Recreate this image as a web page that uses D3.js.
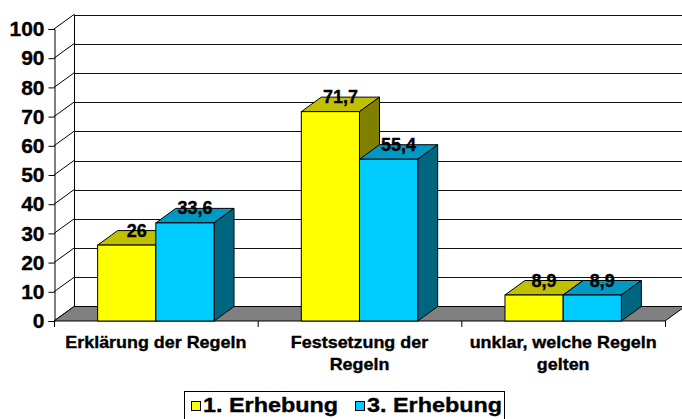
<!DOCTYPE html>
<html>
<head>
<meta charset="utf-8">
<script src="https://cdn.jsdelivr.net/npm/d3@7"></script>
<style>
  body { margin: 0; background: #fff; }
  text { font-family: Arial, 'Liberation Sans', sans-serif; font-weight: bold; fill: #000; stroke: #000; stroke-width: 0.35px; }
</style>
</head>
<body>
<div id="chart"></div>
<script>
// data
const categories = [['Erklärung der Regeln'], ['Festsetzung der', 'Regeln'], ['unklar, welche Regeln', 'gelten']]
const seriesNames = ['1. Erhebung', '3. Erhebung']
const erhebung1 = [26, 71.7, 8.9]
const erhebung3 = [33.6, 55.4, 8.9]
const yTicks = [0, 10, 20, 30, 40, 50, 60, 70, 80, 90, 100]

const width = 682
const height = 419

// 3d depth offset of the plot
const dx = 20
const dy = -14.5

// front, top and side colours for each series
const faceColors = [
  {front: '#FFFF00', top: '#C0C000', side: '#808000'},
  {front: '#00CCFF', top: '#0099C4', side: '#006680'}
]

const fmt = v => String(v).replace('.', ',')

const svg = d3.select('#chart').append('svg')
  .attr('width', width)
  .attr('height', height)

const y = d3.scaleLinear()
  .domain([0, 100])
  .range([321, 29])

const x = d3.scaleBand()
  .domain(d3.range(categories.length))
  .range([54, 665])
  .padding(0)

const xs = d3.scaleBand()
  .domain(d3.range(seriesNames.length))
  .range([0, x.bandwidth()])
  .paddingInner(0)
  .paddingOuter(0.75)

const x0 = x.range()[0]
const x1 = x.range()[1]

// back wall gridlines
svg.append('g')
  .selectAll('line')
  .data(yTicks)
  .enter()
  .append('line')
  .attr('x1', x0 + dx)
  .attr('x2', x1 + dx)
  .attr('y1', d => Math.round(y(d) + dy) + 0.5)
  .attr('y2', d => Math.round(y(d) + dy) + 0.5)
  .attr('stroke', '#111')

// back wall left edge
svg.append('line')
  .attr('x1', x0 + dx + 0.5)
  .attr('x2', x0 + dx + 0.5)
  .attr('y1', y(100) + dy)
  .attr('y2', y(0) + dy)
  .attr('stroke', '#000')

// side wall lines
svg.append('g')
  .selectAll('line')
  .data(yTicks)
  .enter()
  .append('line')
  .attr('x1', x0)
  .attr('y1', d => y(d))
  .attr('x2', x0 + dx)
  .attr('y2', d => y(d) + dy)
  .attr('stroke', '#000')

// floor
svg.append('path')
  .attr('d', `M${x0},${y(0)}L${x1},${y(0)}L${x1 + dx},${y(0) + dy}L${x0 + dx},${y(0) + dy}Z`)
  .attr('fill', '#808080')
  .attr('stroke', '#000')
  .attr('stroke-width', 1)

// front axis
const axis = d3.axisLeft(y)
  .tickValues(yTicks)
  .tickSize(6)
  .tickPadding(4)

const axisG = svg.append('g')
  .attr('transform', `translate(${x0 + 0.5},0)`)
  .call(axis)
axisG.select('.domain').attr('stroke', '#000')
axisG.selectAll('.tick line').attr('stroke', '#000')
axisG.selectAll('.tick text')
  .style('font-size', '21px')
  .attr('font-family', null)

// category ticks under the floor
svg.append('g')
  .selectAll('line')
  .data(d3.range(categories.length + 1))
  .enter()
  .append('line')
  .attr('x1', i => (i < categories.length ? x(i) : x1) + 0.5)
  .attr('x2', i => (i < categories.length ? x(i) : x1) + 0.5)
  .attr('y1', y(0))
  .attr('y2', y(0) + 6)
  .attr('stroke', '#000')

// bars
const bars = []
categories.forEach((c, i) => {
  ;[erhebung1, erhebung3].forEach((s, j) => {
    bars.push({cat: i, ser: j, value: s[i]})
  })
})

const barG = svg.append('g')
  .selectAll('g')
  .data(bars)
  .enter()
  .append('g')

const bx = d => x(d.cat) + xs(d.ser)
const bw = xs.bandwidth()

barG.append('path')
  .attr('d', d => {
    const l = bx(d)
    const t = y(d.value)
    return `M${l},${t}L${l + dx},${t + dy}L${l + bw + dx},${t + dy}L${l + bw},${t}Z`
  })
  .attr('fill', d => faceColors[d.ser].top)
  .attr('stroke', '#000')
  .attr('stroke-linejoin', 'round')

barG.append('path')
  .attr('d', d => {
    const r = bx(d) + bw
    const t = y(d.value)
    const b = y(0)
    return `M${r},${t}L${r + dx},${t + dy}L${r + dx},${b + dy}L${r},${b}Z`
  })
  .attr('fill', d => faceColors[d.ser].side)
  .attr('stroke', '#000')
  .attr('stroke-linejoin', 'round')

barG.append('rect')
  .attr('x', d => bx(d))
  .attr('y', d => y(d.value))
  .attr('width', bw)
  .attr('height', d => y(0) - y(d.value))
  .attr('fill', d => faceColors[d.ser].front)
  .attr('stroke', '#000')

// value labels
svg.append('g')
  .selectAll('text')
  .data(bars)
  .enter()
  .append('text')
  .attr('x', d => bx(d) + bw / 2 + dx / 2)
  .attr('y', d => y(d.value) - 8.5)
  .attr('text-anchor', 'middle')
  .style('font-size', '18px')
  .text(d => fmt(d.value))

// category labels
svg.append('g')
  .selectAll('text')
  .data(categories)
  .enter()
  .append('text')
  .attr('text-anchor', 'middle')
  .attr('transform', (d, i) => `translate(${x(i) + x.bandwidth() / 2},348) scale(1.12,1)`)
  .style('font-size', '16px')
  .selectAll('tspan')
  .data(d => d)
  .enter()
  .append('tspan')
  .attr('x', 0)
  .attr('y', (d, k) => k * 22.3)
  .text(d => d)

// legend
const legend = svg.append('g')
legend.append('rect')
  .attr('x', 184.5)
  .attr('y', 391.5)
  .attr('width', 320)
  .attr('height', 40)
  .attr('fill', '#fff')
  .attr('stroke', '#000')

const legendX = [191, 355]
seriesNames.forEach((name, j) => {
  legend.append('rect')
    .attr('x', legendX[j] + 0.5)
    .attr('y', 401.5)
    .attr('width', 9)
    .attr('height', 9)
    .attr('fill', faceColors[j].front)
    .attr('stroke', '#000')
  legend.append('text')
    .attr('transform', `translate(${legendX[j] + 12},412) scale(1.17,1)`)
    .style('font-size', '20px')
    .text(name)
})
</script>
</body>
</html>
